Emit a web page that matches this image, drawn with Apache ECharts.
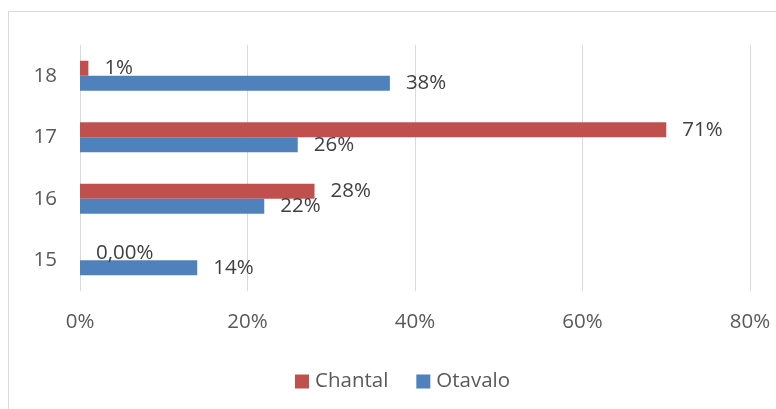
<!DOCTYPE html>
<html>
<head>
<meta charset="utf-8">
<script src="https://cdn.jsdelivr.net/npm/echarts@6/dist/echarts.min.js"></script>
<style>
html,body{margin:0;padding:0;background:#fff;}
#chart{width:776px;height:409px;}
</style>
</head>
<body>
<div id="chart"></div>
<script>
var categories = ['15', '16', '17', '18'];
var chantalValues = [0, 0.28, 0.70, 0.01];
var otavaloValues = [0.14, 0.22, 0.26, 0.37];
var chantalLabels = ['0,00%', '28%', '71%', '1%'];
var otavaloLabels = ['14%', '22%', '26%', '38%'];
var xTickLabels = ['0%', '20%', '40%', '60%', '80%'];

var FONT = 'Open Sans';
var FS = 20.5;
var chart = echarts.init(document.getElementById('chart'), null, {renderer: 'canvas'});
chart.setOption({
  animation: false,
  backgroundColor: '#ffffff',
  textStyle: {fontFamily: FONT},
  graphic: [{
    type: 'rect',
    shape: {x: 8.5, y: 11.5, width: 800, height: 420},
    style: {fill: 'none', stroke: '#d9d9d9', lineWidth: 1},
    silent: true
  }],
  grid: {left: 80, right: 26, top: 45, bottom: 118, containLabel: false},
  legend: {
    data: ['Chantal', 'Otavalo'],
    left: 290,
    top: 366,
    itemWidth: 14,
    itemHeight: 14,
    itemGap: 28,
    icon: 'rect',
    textStyle: {fontFamily: FONT, fontSize: FS, color: '#595959', lineHeight: 20, padding: [0, 0, 0, 1]}
  },
  xAxis: {
    type: 'value',
    min: 0,
    max: 0.8,
    interval: 0.2,
    axisLine: {show: false},
    axisTick: {show: false},
    splitLine: {show: true, lineStyle: {color: '#d9d9d9', width: 1}},
    axisLabel: {
      margin: 21,
      fontFamily: FONT,
      fontSize: FS,
      lineHeight: 20,
      color: '#595959',
      formatter: function (v) { return xTickLabels[Math.round(v / 0.2)]; }
    }
  },
  yAxis: {
    type: 'category',
    data: categories,
    axisLine: {show: false},
    axisTick: {show: false},
    splitLine: {show: false},
    axisLabel: {margin: 23, fontFamily: FONT, fontSize: FS, color: '#595959', padding: [3, 0, 0, 0]}
  },
  series: [{
    name: 'Chantal',
    type: 'bar',
    data: chantalValues,
    barWidth: 15,
    barGap: '0%',
    itemStyle: {color: '#C0504D'},
    label: {
      show: true,
      position: 'right',
      distance: 16,
      fontFamily: FONT,
      fontSize: FS,
      color: '#404040',
      formatter: function (p) { return chantalLabels[p.dataIndex]; }
    }
  }, {
    name: 'Otavalo',
    type: 'bar',
    data: otavaloValues,
    barWidth: 15,
    barGap: '0%',
    itemStyle: {color: '#4F81BD'},
    label: {
      show: true,
      position: 'right',
      distance: 16,
      fontFamily: FONT,
      fontSize: FS,
      color: '#404040',
      formatter: function (p) { return otavaloLabels[p.dataIndex]; }
    }
  }]
});
</script>
</body>
</html>
